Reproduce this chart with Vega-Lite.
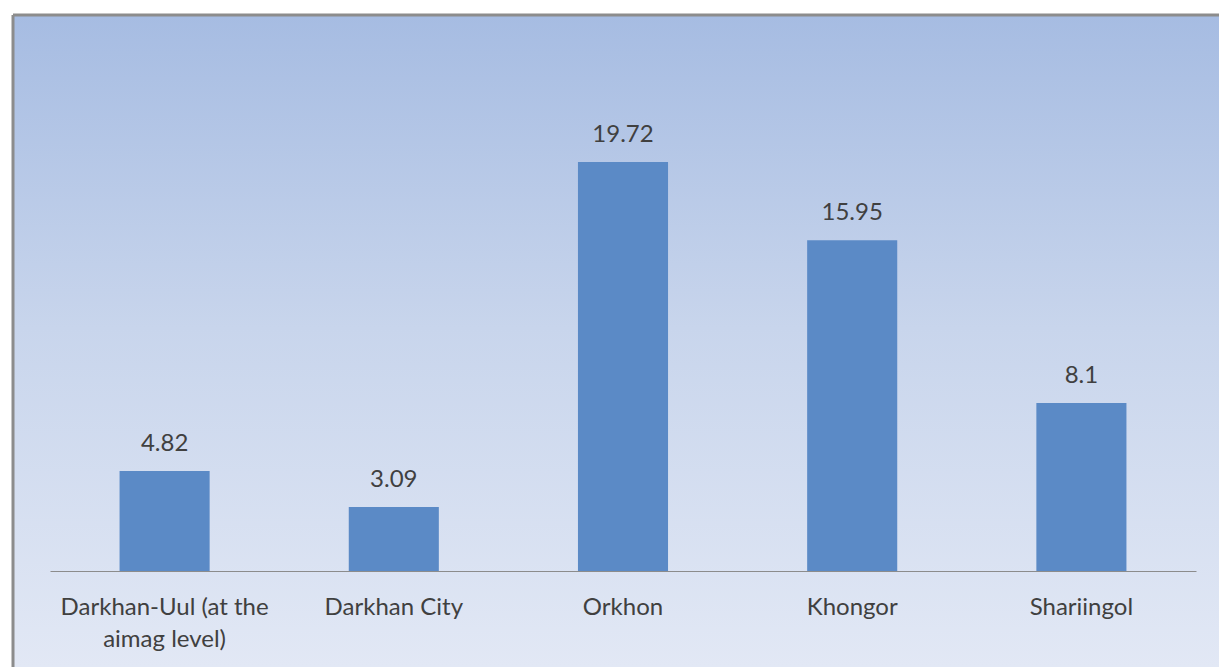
{
  "$schema": "https://vega.github.io/schema/vega-lite/v6.json",
  "width": 1206,
  "height": 652,
  "autosize": {"type": "none"},
  "padding": {"left": 13, "top": 15, "right": 0, "bottom": 0},
  "background": "white",
  "config": {
    "view": {
      "fill": {
        "gradient": "linear",
        "x1": 0, "y1": 0, "x2": 0, "y2": 1,
        "stops": [
          {"offset": 0, "color": "#a6bce2"},
          {"offset": 0.48, "color": "#c8d5ec"},
          {"offset": 1, "color": "#e2e8f5"}
        ]
      },
      "stroke": "#8c8c8c",
      "strokeWidth": 3,
      "strokeDash": [1206, 1858, 652, 0]
    }
  },
  "data": {
    "values": [
      {"region": "Darkhan-Uul (at the|aimag level)", "value": 4.82},
      {"region": "Darkhan City", "value": 3.09},
      {"region": "Orkhon", "value": 19.72},
      {"region": "Khongor", "value": 15.95},
      {"region": "Shariingol", "value": 8.1}
    ]
  },
  "encoding": {
    "x": {
      "field": "region",
      "type": "nominal",
      "sort": null,
      "scale": {"range": [37, 1183], "paddingInner": 0.607, "paddingOuter": 0.3035},
      "axis": {
        "orient": "bottom",
        "offset": -96,
        "title": null,
        "ticks": false,
        "domainColor": "#8c8c8c",
        "domainWidth": 1,
        "labelFont": "Lato",
        "labelFontSize": 24,
        "labelColor": "#404040",
        "labelPadding": 24,
        "labelAngle": 0,
        "labelLineHeight": 32,
        "labelLimit": 0,
        "labelOverlap": false,
        "labelExpr": "split(datum.label, '|')"
      }
    },
    "y": {
      "field": "value",
      "type": "quantitative",
      "scale": {"domain": [-4.629, 26.808], "nice": false, "zero": false},
      "axis": null
    }
  },
  "layer": [
    {"mark": {"type": "bar", "color": "#5b8ac6"}},
    {
      "mark": {"type": "text", "dy": -20, "baseline": "alphabetic", "font": "Lato", "fontSize": 24, "color": "#404040"},
      "encoding": {"text": {"field": "value", "type": "quantitative", "format": ""}}
    }
  ]
}
